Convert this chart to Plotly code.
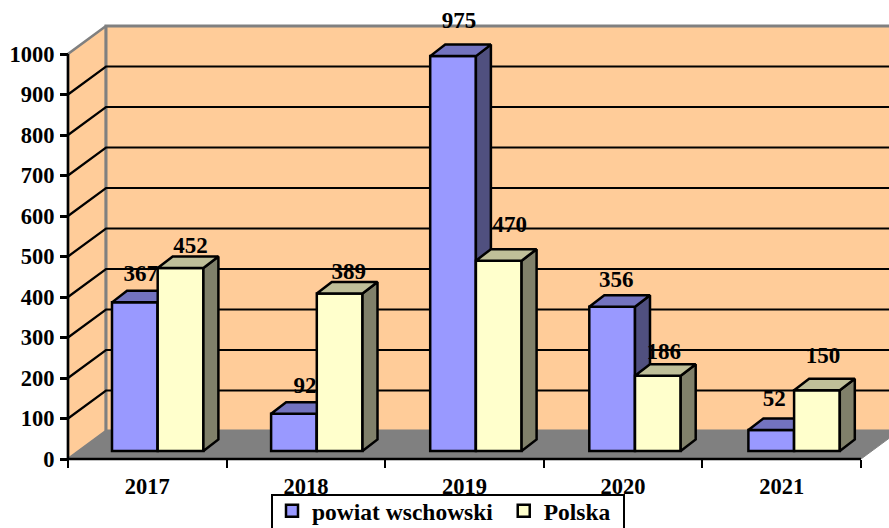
import plotly.graph_objects as go

# chart data
years = ['2017', '2018', '2019', '2020', '2021']
powiat = [367, 92, 975, 356, 52]
polska = [452, 389, 470, 186, 150]
y_ticks = [0, 100, 200, 300, 400, 500, 600, 700, 800, 900, 1000]

# label nudges in pixels, measured from the front top of each bar
powiat_label_dx = [6, 11, 6, 4, 3]
powiat_label_dy = [27, 26, 34, 26, 30]
polska_label_dx = [10, 9, 11, 6, 6]
polska_label_dy = [21, 20, 34, 22, 33]

W, H = 889, 528
LEFT, RIGHT, TOP, BOTTOM = 68, 861, 54, 459
UX = (RIGHT - LEFT) / len(years)    # pixels per category
UY = (BOTTOM - TOP) / 1000          # pixels per value unit

# depth offsets of the 3d look, in axis units
WALL_DX, WALL_DY = 38 / UX, 28 / UY
BAR_DX, BAR_DY = 15 / UX, 11.5 / UY
FLOOR_GAP = 8 / UY
BAR_LEFT = 44 / UX
BAR_W = 45.7 / UX
BAR_PITCH = 159.1 / UX   # the bars step a touch wider than the ticks

WALL = '#FFCC99'
EDGE = '#808080'
LINE = 2.5

# the plot area fills the whole page so the walls and labels can sit past 0-1000
x_range = [-LEFT / UX, (W - LEFT) / UX]
y_range = [-(H - BOTTOM) / UY, BOTTOM / UY]

fig = go.Figure()


def poly(xs, ys, color, yaxis, line_color='black', width=LINE):
    fig.add_trace(go.Scatter(x=xs + xs[:1], y=ys + ys[:1], mode='lines', fill='toself', fillcolor=color,
                             line=dict(color=line_color, width=width), yaxis=yaxis, showlegend=False,
                             hoverinfo='skip'))


# walls and floor
n = len(years)
poly([0, WALL_DX, WALL_DX, 0], [0, WALL_DY, 1000 + WALL_DY, 1000], WALL, 'y', EDGE, 2.5)
poly([WALL_DX, n + WALL_DX, n + WALL_DX, WALL_DX], [WALL_DY, WALL_DY, 1000 + WALL_DY, 1000 + WALL_DY], WALL, 'y', EDGE, 3)
poly([0, n, n + WALL_DX, WALL_DX], [0, 0, WALL_DY, WALL_DY], EDGE, 'y', EDGE, 1)

# grid lines run over the side wall and then along the back
grid_x, grid_y = [], []
for v in y_ticks[1:-1]:
    grid_x += [0, WALL_DX, n + WALL_DX, None]
    grid_y += [v, v + WALL_DY, v + WALL_DY, None]
fig.add_trace(go.Scatter(x=grid_x, y=grid_y, mode='lines', line=dict(color='black', width=2.2), yaxis='y',
                         showlegend=False, hoverinfo='skip'))

# axis lines, the axes themselves span the whole page
fig.add_trace(go.Scatter(x=[0, 0, n], y=[1000, 0, 0], mode='lines', line=dict(color='black', width=LINE), yaxis='y',
                         showlegend=False, hoverinfo='skip'))


def bars(values, name, x0, front, side, top, yaxis, label_dx, label_dy):
    xs = [i * BAR_PITCH + x0 + BAR_W / 2 for i in range(n)]
    fig.add_trace(go.Bar(x=xs, y=values, base=[FLOOR_GAP] * n, width=BAR_W, name=name, yaxis=yaxis,
                         marker=dict(color=front, line=dict(color='black', width=LINE)), hoverinfo='skip'))
    for i, v in enumerate(values):
        l = i * BAR_PITCH + x0
        r = l + BAR_W
        b = FLOOR_GAP
        t = v + FLOOR_GAP
        poly([r, r + BAR_DX, r + BAR_DX, r], [b, b + BAR_DY, t + BAR_DY, t], side, yaxis)
        poly([l, r, r + BAR_DX, l + BAR_DX], [t, t, t + BAR_DY, t + BAR_DY], top, yaxis)
    fig.add_trace(go.Scatter(x=[xs[i] + label_dx[i] / UX for i in range(n)],
                             y=[values[i] + FLOOR_GAP + label_dy[i] / UY for i in range(n)],
                             mode='text', text=[str(v) for v in values], textposition='middle center',
                             textfont=dict(family='Liberation Serif', size=23, color='black', weight='bold'),
                             yaxis=yaxis, showlegend=False, hoverinfo='skip'))


# the trailing no-break space spreads the legend entries to the reference width
bars(powiat, 'powiat wschowski\u00a0', BAR_LEFT, '#9999FF', '#50507F', '#7373BF', 'y2', powiat_label_dx, powiat_label_dy)
bars(polska, 'Polska\u00a0', BAR_LEFT + BAR_W, '#FFFFCC', '#80806A', '#BFBF99', 'y3', polska_label_dx, polska_label_dy)

font = dict(family='Liberation Serif', size=22.5, color='black', weight='bold')
legend_font = dict(family='Liberation Serif', size=23.5, color='black', weight='bold')
hidden = dict(range=y_range, overlaying='y', visible=False, fixedrange=True)
fig.update_layout(
    width=W, height=H,
    margin=dict(l=0, r=0, t=0, b=0, autoexpand=False),
    paper_bgcolor='white', plot_bgcolor='rgba(0,0,0,0)',
    font=font,
    barmode='overlay',
    xaxis=dict(range=x_range, anchor='free', position=(H - BOTTOM) / H, tickvals=[i + 0.5 for i in range(n)],
               ticktext=years, ticks='', showgrid=False, showline=False, zeroline=False, ticklabelstandoff=11,
               tickfont=font,
               minor=dict(ticks='outside', tick0=0, dtick=1, ticklen=8, tickwidth=2, tickcolor='black', showgrid=False)),
    yaxis=dict(range=y_range, anchor='free', position=LEFT / W, tickvals=y_ticks, ticks='outside', ticklen=8,
               tickwidth=LINE, tickcolor='black', showgrid=False, showline=False, zeroline=False, tickfont=font,
               ticklabelstandoff=1),
    yaxis2=hidden,
    yaxis3=hidden,
    # legend box is a separate shape: plotly's own padding sits the text too low and runs past the page
    legend=dict(orientation='h', x=272 / W, y=1 - 489 / H, xanchor='left', yanchor='top', bgcolor='rgba(0,0,0,0)',
                borderwidth=0, font=legend_font, traceorder='normal'),
    shapes=[dict(type='rect', xref='paper', yref='paper', x0=272 / W, x1=624 / W, y0=1 - 535 / H, y1=1 - 495 / H,
                 fillcolor='white', line=dict(color='black', width=2), layer='above')],
)

# drop the browser's default body margin so the figure fills the window
fig.write_html("out.html", config={'displayModeBar': False},
               post_script="document.body.style.margin='0';document.documentElement.style.overflow='hidden';")
